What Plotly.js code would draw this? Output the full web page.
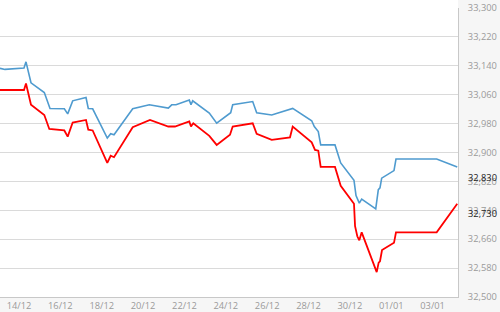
<!DOCTYPE html>
<html>
<head>
<meta charset="utf-8">
<script src="https://cdn.plot.ly/plotly-3.0.1.min.js"></script>
<style>html,body{margin:0;padding:0;background:#f6f6f6;}#chart{width:500px;height:312px;}</style>
</head>
<body>
<div id="chart"></div>
<script>
var blueTimes = ['2023-12-13 01:57','2023-12-13 07:45','2023-12-14 05:48','2023-12-14 08:07','2023-12-14 13:55','2023-12-15 05:22','2023-12-15 12:00','2023-12-16 04:36','2023-12-16 08:30','2023-12-16 14:18','2023-12-17 05:45','2023-12-17 08:25','2023-12-17 13:30','2023-12-18 06:28','2023-12-18 10:25','2023-12-18 14:15','2023-12-19 11:57','2023-12-20 07:13','2023-12-21 05:16','2023-12-21 09:13','2023-12-21 14:13','2023-12-22 05:38','2023-12-22 07:36','2023-12-22 09:34','2023-12-23 04:50','2023-12-23 13:25','2023-12-24 05:40','2023-12-24 08:00','2023-12-25 07:13','2023-12-25 11:50','2023-12-26 05:16','2023-12-27 05:38','2023-12-28 03:40','2023-12-28 06:43','2023-12-28 11:20','2023-12-28 14:07','2023-12-29 06:43','2023-12-29 13:20','2023-12-30 04:46','2023-12-30 07:07','2023-12-30 10:56','2023-12-30 13:42','2023-12-31 06:00','2023-12-31 09:00','2023-12-31 10:56','2023-12-31 12:54','2024-01-01 03:11','2024-01-01 05:30','2024-01-03 04:42','2024-01-04 04:36'];
var blueValues = [33133,33130,33134,33151,33093,33066,33022,33021,33007,33043,33052,33022,33021,32940,32952,32949,33021,33032,33023,33032,33032,33045,33032,33043,33009,32981,33010,33032,33041,33010,33004,33022,32988,32972,32958,32921,32921,32871,32823,32781,32760,32771,32744,32797,32802,32829,32850,32882,32882,32860];

var redTimes = ['2023-12-13 01:57','2023-12-14 05:48','2023-12-14 08:07','2023-12-14 13:55','2023-12-15 05:22','2023-12-15 11:10','2023-12-16 04:36','2023-12-16 08:30','2023-12-16 14:18','2023-12-17 05:45','2023-12-17 08:25','2023-12-17 13:30','2023-12-18 06:28','2023-12-18 10:25','2023-12-18 14:15','2023-12-19 11:57','2023-12-20 08:00','2023-12-21 05:16','2023-12-21 13:00','2023-12-22 05:38','2023-12-22 07:36','2023-12-22 10:16','2023-12-23 04:50','2023-12-23 13:25','2023-12-24 04:52','2023-12-24 08:00','2023-12-25 07:13','2023-12-25 11:50','2023-12-26 05:16','2023-12-27 02:30','2023-12-27 05:38','2023-12-28 03:40','2023-12-28 07:30','2023-12-28 11:20','2023-12-28 14:07','2023-12-29 06:43','2023-12-29 13:20','2023-12-30 04:46','2023-12-30 06:00','2023-12-30 08:36','2023-12-30 10:56','2023-12-30 13:42','2023-12-31 07:06','2023-12-31 09:24','2023-12-31 10:56','2023-12-31 13:18','2024-01-01 03:11','2024-01-01 05:30','2024-01-03 04:42','2024-01-04 04:36'];
var redValues = [33073,33073,33091,33032,33004,32965,32961,32944,32983,32990,32963,32961,32871,32891,32887,32970,32990,32972,32972,32986,32972,32981,32946,32921,32949,32972,32981,32952,32935,32942,32972,32928,32907,32905,32860,32860,32808,32758,32696,32668,32657,32679,32569,32595,32599,32630,32650,32679,32679,32758];

var lastLabels = [32830, 32730];
var lastLabelText = ['32,830', '32,730'];

var font = "'Open Sans', 'DejaVu Sans', sans-serif";

var traces = [
  {x: blueTimes, y: blueValues, type: 'scatter', mode: 'lines', line: {color: '#4f9bcf', width: 1.6}, hoverinfo: 'none'},
  {x: redTimes, y: redValues, type: 'scatter', mode: 'lines', line: {color: '#ff0000', width: 1.8}, hoverinfo: 'none'}
];

var annotations = lastLabels.map(function(v, i) {
  return {xref: 'paper', yref: 'y', x: 1, y: v, xanchor: 'left', yanchor: 'middle', xshift: 8,
          text: lastLabelText[i], showarrow: false, font: {family: font, size: 9.3, color: '#222'}};
});

var layout = {
  width: 500, height: 312,
  margin: {l: 0, r: 42, t: 8, b: 15, pad: 0},
  paper_bgcolor: '#f6f6f6',
  plot_bgcolor: '#ffffff',
  showlegend: false,
  shapes: [{type: 'rect', xref: 'paper', yref: 'paper', x0: 0, x1: 1, y0: 1, y1: 1.05,
            fillcolor: '#ffffff', line: {width: 0}, layer: 'below'}],
  xaxis: {
    type: 'date',
    range: ['2023-12-13 01:57', '2024-01-04 05:28'],
    tick0: '2023-12-14', dtick: 2 * 86400000,
    tickformat: '%d/%m',
    showgrid: false, zeroline: false,
    showline: true, linecolor: '#c8c8c8', linewidth: 1,
    ticks: '', 
    tickfont: {family: font, size: 9.3, color: '#9a9a9a'}
  },
  yaxis: {
    side: 'right',
    range: [32500, 33300],
    tick0: 32500, dtick: 80,
    tickformat: ',d',
    showgrid: true, gridcolor: '#dadada', gridwidth: 1,
    zeroline: false,
    showline: true, linecolor: '#c8c8c8', linewidth: 1,
    ticks: '', ticklabelstandoff: 7,
    tickfont: {family: font, size: 9.3, color: '#9a9a9a'}
  },
  annotations: annotations
};

Plotly.newPlot('chart', traces, layout, {staticPlot: true, displayModeBar: false});
</script>
</body>
</html>
